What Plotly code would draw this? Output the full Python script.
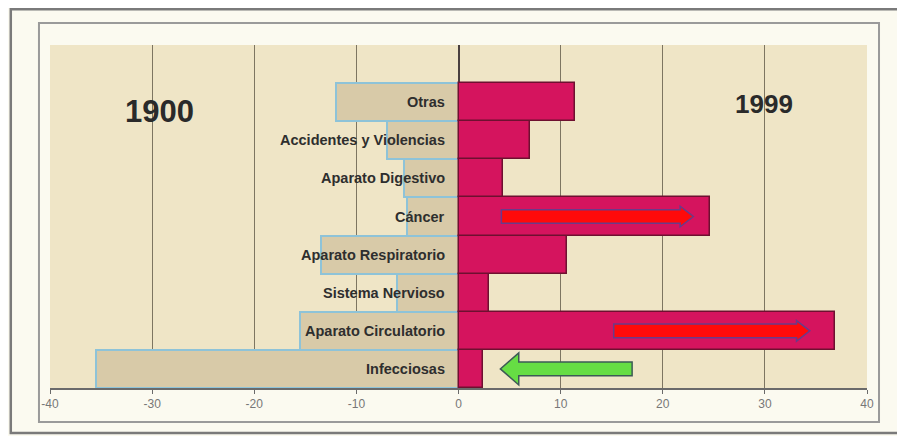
import plotly.graph_objects as go

# ---- data (bottom to top) ----
categories = ["Infecciosas", "Aparato Circulatorio", "Sistema Nervioso",
              "Aparato Respiratorio", "Cáncer", "Aparato Digestivo",
              "Accidentes y Violencias", "Otras"]
val_1900 = [35.5, 15.5, 6.0, 13.5, 5.0, 5.3, 7.0, 12.0]
val_1999 = [2.4, 36.9, 3.0, 10.6, 24.6, 4.4, 7.0, 11.4]
year_left = "1900"
year_right = "1999"
x_ticks = [-40, -30, -20, -10, 0, 10, 20, 30, 40]

# arrows: (category, x_start, x_end, fill, outline)
arrows = [
    ("Cáncer", 4.2, 23.0, "#ff0a0a", "#6a3a8a"),
    ("Aparato Circulatorio", 15.2, 34.4, "#ff0a0a", "#6a3a8a"),
    ("Infecciosas", 17.0, 4.1, "#66dd44", "#3d5a55"),
]

pos = list(range(len(categories)))

fig = go.Figure()
fig.add_trace(go.Bar(
    y=pos, x=[-v for v in val_1900], orientation="h",
    marker=dict(color="#d8caa8", line=dict(color="#8ec3d8", width=2)),
    width=1.0, hoverinfo="skip", showlegend=False,
))
fig.add_trace(go.Bar(
    y=pos, x=val_1999, orientation="h",
    marker=dict(color="#d5145e", line=dict(color="#6e1030", width=1.5)),
    width=1.0, hoverinfo="skip", showlegend=False,
))

annotations = []
for p, c in zip(pos, categories):
    annotations.append(dict(
        x=0, y=p, xref="x", yref="y", text="<b>%s</b>" % c, showarrow=False,
        xanchor="right", yanchor="middle", xshift=-12,
        font=dict(family="Liberation Sans, Arial, sans-serif", size=14.5, color="#2e2e2e"),
    ))
annotations.append(dict(
    x=-29.3, y=6.75, xref="x", yref="y", text="<b>%s</b>" % year_left, showarrow=False,
    font=dict(family="Liberation Sans, Arial, sans-serif", size=31, color="#2a2a2a"),
))
annotations.append(dict(
    x=29.9, y=6.95, xref="x", yref="y", text="<b>%s</b>" % year_right, showarrow=False,
    font=dict(family="Liberation Sans, Arial, sans-serif", size=26, color="#2a2a2a"),
))


def arrow_path(x0, x1, yc, bh=0.18, hh=0.27, hl=1.3):
    d = 1 if x1 > x0 else -1
    xb = x1 - d * hl
    pts = [(x0, yc - bh), (xb, yc - bh), (xb, yc - hh), (x1, yc),
           (xb, yc + hh), (xb, yc + bh), (x0, yc + bh)]
    return "M " + " L ".join("%g,%g" % p for p in pts) + " Z"


shapes = []
for cat, xs, xe, fill, outline in arrows:
    yc = categories.index(cat)
    hl = 1.8 if xe < xs else 1.3
    hh = 0.42 if xe < xs else 0.27
    shapes.append(dict(type="path", xref="x", yref="y", path=arrow_path(xs, xe, yc, hh=hh, hl=hl),
                       fillcolor=fill, line=dict(color=outline, width=1.5), layer="above"))

# frames (paper coordinates relative to plot area)
shapes.append(dict(type="rect", xref="paper", yref="paper", x0=-0.048, x1=1.08, y0=-0.131, y1=1.104,
                   line=dict(color="#7a7a7a", width=2.5), fillcolor="rgba(0,0,0,0)", layer="below"))
shapes.append(dict(type="rect", xref="paper", yref="paper", x0=-0.0135, x1=1.0147, y0=-0.0991, y1=1.0641,
                   line=dict(color="#9a9a9a", width=2), fillcolor="rgba(0,0,0,0)", layer="below"))

fig.update_layout(
    width=897, height=428,
    margin=dict(l=42, r=38, t=37, b=48),
    paper_bgcolor="#fbfaf0",
    plot_bgcolor="#efe5c6",
    barmode="overlay",
    bargap=0,
    annotations=annotations,
    shapes=shapes,
    xaxis=dict(range=[-40, 40], tickvals=x_ticks, ticktext=[str(t) for t in x_ticks],
               showgrid=True, gridcolor="#7d7561", gridwidth=1.2, zeroline=True,
               zerolinecolor="#4a4040", zerolinewidth=1.5,
               showline=True, linecolor="#6a6a6a", linewidth=1.5,
               ticks="outside", ticklen=4, tickcolor="#6a6a6a",
               tickfont=dict(family="Liberation Sans, Arial, sans-serif", size=12, color="#777777"),
               fixedrange=True),
    yaxis=dict(range=[-0.5, 8.5], showticklabels=False, showgrid=False, zeroline=False,
               showline=False, ticks="", fixedrange=True),
)

fig.write_html("out.html")
